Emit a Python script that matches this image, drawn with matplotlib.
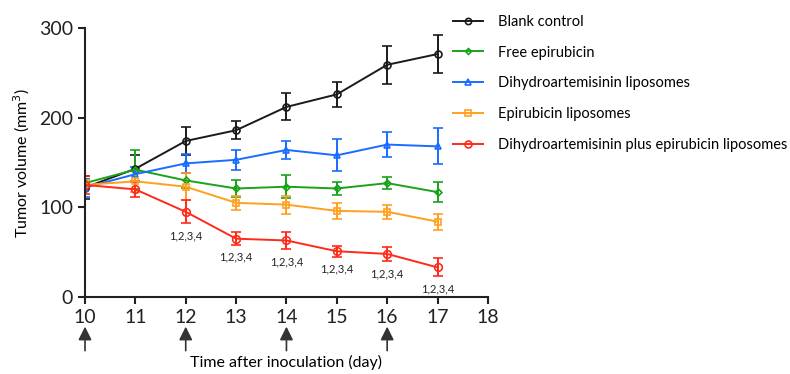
import matplotlib
matplotlib.use("Agg")
import matplotlib.pyplot as plt
from matplotlib.lines import Line2D

plt.rcParams['font.family'] = ['Lato', 'DejaVu Sans']

days = [10, 11, 12, 13, 14, 15, 16, 17]
arrow_days = [10, 12, 14, 16]
sig_days = [12, 13, 14, 15, 16, 17]
sig_label = "1,2,3,4"

blank_mean = [122, 143, 174, 186, 212, 226, 259, 271]
blank_err = [13, 15, 16, 10, 15, 14, 21, 21]
free_mean = [127, 142, 130, 121, 123, 121, 127, 117]
free_err = [5, 22, 8, 10, 13, 7, 7, 11]
dha_mean = [122, 137, 149, 153, 164, 158, 170, 168]
dha_err = [10, 8, 11, 11, 10, 18, 14, 20]
epi_lip_mean = [125, 129, 123, 105, 103, 96, 95, 84]
epi_lip_err = [5, 12, 15, 8, 10, 9, 8, 9]
combo_mean = [125, 120, 95, 65, 63, 51, 48, 33]
combo_err = [10, 8, 13, 7, 10, 6, 8, 10]

series = [
    ("Blank control", blank_mean, blank_err, "#1a1a1a", "o", 5),
    ("Free epirubicin", free_mean, free_err, "#1aa31a", "D", 3.5),
    ("Dihydroartemisinin liposomes", dha_mean, dha_err, "#1a6cff", "^", 5),
    ("Epirubicin liposomes", epi_lip_mean, epi_lip_err, "#ffa01e", "s", 5),
    ("Dihydroartemisinin plus epirubicin liposomes", combo_mean, combo_err, "#ff2a1a", "o", 5.5),
]

fig = plt.figure(figsize=(7.9, 3.74), dpi=100)
ax = fig.add_axes([0.1076, 0.206, 0.51, 0.719])

handles = []
for name, mean, err, color, marker, ms in series:
    ax.errorbar(days, mean, yerr=err, color=color, marker=marker, markersize=ms,
                markerfacecolor="none", markeredgewidth=1.2, linewidth=1.4,
                elinewidth=1.4, capsize=3.5, capthick=1.4)
    handles.append(Line2D([], [], color=color, marker=marker, markersize=ms - 0.5,
                          markerfacecolor="none", markeredgewidth=1.2,
                          linewidth=1.4, label=name))

# significance labels under the combo group
for d in sig_days:
    i = days.index(d)
    ax.annotate(sig_label, (d, combo_mean[i] - combo_err[i]), xytext=(0, -5),
                textcoords="offset points", ha="center", va="top", fontsize=8,
                color="#222222")

# dosing arrows
for d in arrow_days:
    ax.annotate("", xy=(d, -0.1), xytext=(d, -0.21),
                xycoords=("data", "axes fraction"),
                textcoords=("data", "axes fraction"),
                arrowprops=dict(arrowstyle="-|>,head_width=0.4,head_length=0.8",
                                color="#333333", lw=1.2), annotation_clip=False)

ax.set_xlim(10, 18)
ax.set_ylim(0, 300)
ax.set_xticks(range(10, 19))
ax.set_yticks([0, 100, 200, 300])
ax.spines["top"].set_visible(False)
ax.spines["right"].set_visible(False)
for s in ["left", "bottom"]:
    ax.spines[s].set_linewidth(1.5)
    ax.spines[s].set_color("#222222")
ax.tick_params(width=1.5, length=5, labelsize=14, colors="#222222")

ax.set_xlabel("Time after inoculation (day)", fontsize=11.5, va="center")
ax.xaxis.set_label_coords(0.5, -0.242)
ax.set_ylabel("Tumor volume (mm$^3$)", fontsize=11.5, labelpad=5)

ax.legend(handles=handles, loc="upper left", bbox_to_anchor=(0.905, 1.06),
          frameon=False, fontsize=10.5, handlelength=2.1, labelspacing=1.15,
          handletextpad=1.0, borderaxespad=0, borderpad=0.2)

fig.savefig("out.png", dpi=100)
